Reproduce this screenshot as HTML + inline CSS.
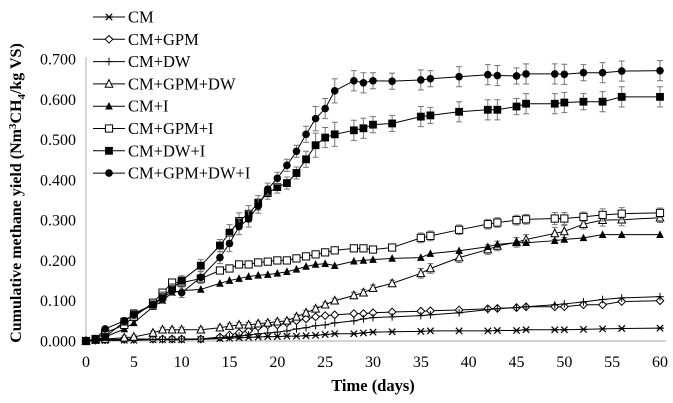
<!DOCTYPE html>
<html><head><meta charset="utf-8"><style>
html,body{margin:0;padding:0;background:#fff;}
svg{display:block;font-family:"Liberation Serif",serif;}
</style></head><body>
<svg id="chart" width="673" height="403" viewBox="0 0 673 403">
</svg>
<script>
const days = [0,1,2,4,5,7,8,9,10,12,14,15,16,17,18,19,20,21,22,23,24,25,26,28,29,30,32,35,36,39,42,43,45,46,49,50,52,54,56,60];
const seriesNames = ["CM","CM+GPM","CM+DW","CM+GPM+DW","CM+I","CM+GPM+I","CM+DW+I","CM+GPM+DW+I"];
const yTicks = [0,0.1,0.2,0.3,0.4,0.5,0.6,0.7];
const xTicks = [0,5,10,15,20,25,30,35,40,45,50,55,60];
const cmVals = [0,0.001,0.001,0.002,0.002,0.003,0.003,0.003,0.003,0.004,0.006,0.007,0.008,0.009,0.01,0.011,0.011,0.012,0.012,0.013,0.014,0.016,0.018,0.018,0.02,0.022,0.023,0.024,0.025,0.025,0.025,0.026,0.026,0.028,0.028,0.028,0.029,0.03,0.031,0.032];
const gpmVals = [0,0.002,0.003,0.004,0.005,0.005,0.005,0.005,0.005,0.005,0.01,0.015,0.02,0.025,0.035,0.04,0.04,0.045,0.05,0.055,0.06,0.063,0.065,0.068,0.068,0.07,0.072,0.074,0.075,0.077,0.08,0.081,0.083,0.085,0.085,0.085,0.09,0.09,0.098,0.1];
const dwVals = [0,0.002,0.002,0.003,0.003,0.004,0.004,0.004,0.005,0.005,0.008,0.01,0.012,0.015,0.018,0.02,0.022,0.025,0.03,0.033,0.038,0.04,0.045,0.05,0.055,0.058,0.06,0.063,0.065,0.07,0.078,0.08,0.083,0.085,0.09,0.092,0.097,0.103,0.107,0.11];
const gpmDwVals = [0,0.003,0.005,0.008,0.01,0.02,0.028,0.028,0.028,0.028,0.033,0.037,0.04,0.04,0.043,0.045,0.048,0.05,0.06,0.07,0.08,0.09,0.1,0.113,0.12,0.131,0.143,0.168,0.18,0.207,0.227,0.236,0.245,0.252,0.267,0.272,0.29,0.3,0.301,0.306];
const iVals = [0,0.003,0.01,0.03,0.045,0.085,0.1,0.12,0.125,0.128,0.143,0.15,0.155,0.16,0.163,0.165,0.168,0.172,0.178,0.185,0.19,0.192,0.187,0.198,0.2,0.202,0.205,0.207,0.217,0.224,0.234,0.24,0.244,0.244,0.249,0.252,0.256,0.264,0.264,0.264];
const gpmIVals = [0,0.005,0.02,0.04,0.06,0.095,0.12,0.145,0.145,0.155,0.175,0.18,0.19,0.19,0.195,0.197,0.2,0.2,0.205,0.21,0.215,0.22,0.225,0.23,0.23,0.227,0.232,0.256,0.261,0.276,0.29,0.294,0.3,0.302,0.304,0.304,0.308,0.313,0.316,0.318];
const dwIVals = [0,0.003,0.01,0.048,0.068,0.09,0.11,0.13,0.15,0.187,0.237,0.269,0.298,0.316,0.343,0.367,0.382,0.392,0.417,0.451,0.486,0.505,0.513,0.523,0.528,0.537,0.54,0.557,0.56,0.569,0.574,0.574,0.582,0.589,0.589,0.592,0.594,0.594,0.606,0.606];
const allVals = [0,0.005,0.03,0.05,0.065,0.09,0.105,0.125,0.12,0.158,0.207,0.242,0.284,0.303,0.335,0.377,0.404,0.436,0.471,0.513,0.552,0.577,0.621,0.646,0.641,0.646,0.645,0.648,0.651,0.656,0.661,0.659,0.658,0.663,0.663,0.662,0.666,0.666,0.67,0.671];
const errTop = [0,0.003,0.005,0.008,0.01,0.01,0.012,0.012,0.012,0.015,0.015,0.02,0.02,0.02,0.018,0.015,0.015,0.015,0.015,0.02,0.03,0.025,0.03,0.025,0.025,0.02,0.02,0.025,0.02,0.025,0.025,0.025,0.02,0.025,0.025,0.025,0.02,0.025,0.025,0.025];
const errMid = [0,0.002,0.003,0.005,0.005,0.005,0.005,0.006,0.006,0.006,0.006,0.006,0.006,0.006,0.006,0.006,0.006,0.006,0.006,0.006,0.006,0.006,0.006,0.008,0.008,0.008,0.008,0.012,0.012,0.012,0.012,0.012,0.012,0.012,0.015,0.015,0.012,0.015,0.015,0.012];
const valsList = [cmVals,gpmVals,dwVals,gpmDwVals,iVals,gpmIVals,dwIVals,allVals];
const errList = [null,null,null,errMid,null,errMid,errTop,errTop];
const markers = ["star","diamond","plus","tri-open","tri","sq-open","sq","circle"];

const NS="http://www.w3.org/2000/svg";
const svg=document.getElementById('chart');
const X0=86,X1=660,Y0=341,Y1=59;
function xs(d){return X0+(X1-X0)*d/60;}
function ys(v){return Y0-(Y0-Y1)*v/0.7;}
function mk(tag,attrs,parent){const e=document.createElementNS(NS,tag);for(const k in attrs)e.setAttribute(k,attrs[k]);(parent||svg).appendChild(e);return e;}

let e=mk('line',{x1:X0,y1:Y1-2,x2:X0,y2:Y0,stroke:'#bbb','stroke-width':1.2});


e=mk('line',{x1:X0,y1:Y0,x2:X1+6,y2:Y0,stroke:'#bbb','stroke-width':1.2});


yTicks.forEach(t=>{const el=mk('text',{x:76,y:ys(t)+5.5,'text-anchor':'end','font-size':16});el.textContent=t.toFixed(3);

});
xTicks.forEach(t=>{const el=mk('text',{x:xs(t),y:367,'text-anchor':'middle','font-size':16});el.textContent=t;

});
e=mk('text',{x:373,y:391,'text-anchor':'middle','font-size':16.5,'font-weight':'bold'});e.textContent='Time (days)';


e=mk('text',{transform:'translate(21,193) rotate(-90)','text-anchor':'middle','font-size':16,'font-weight':'bold'});
e.innerHTML='Cumulative methane yield (Nm<tspan dy="-5" font-size="11">3</tspan><tspan dy="5">CH</tspan><tspan dy="4" font-size="11">4</tspan><tspan dy="-4">/kg VS)</tspan>';



function marker(type,x,y,g){
  const s=3.8;
  if(type==='circle')mk('circle',{cx:x,cy:y,r:3.8,fill:'#000'},g);
  else if(type==='sq')mk('rect',{x:x-3.9,y:y-3.9,width:7.8,height:7.8,fill:'#000'},g);
  else if(type==='sq-open')mk('rect',{x:x-3.6,y:y-3.6,width:7.2,height:7.2,fill:'#fff',stroke:'#000','stroke-width':1},g);
  else if(type==='tri')mk('polygon',{points:`${x},${y-s-0.5} ${x-s},${y+s-0.5} ${x+s},${y+s-0.5}`,fill:'#000'},g);
  else if(type==='tri-open')mk('polygon',{points:`${x},${y-s-0.5} ${x-s},${y+s-0.5} ${x+s},${y+s-0.5}`,fill:'#fff',stroke:'#000','stroke-width':1},g);
  else if(type==='diamond')mk('polygon',{points:`${x},${y-3.8} ${x+3.8},${y} ${x},${y+3.8} ${x-3.8},${y}`,fill:'#fff',stroke:'#000','stroke-width':1},g);
  else if(type==='plus'){mk('line',{x1:x-3.8,y1:y,x2:x+3.8,y2:y,stroke:'#000','stroke-width':1},g);mk('line',{x1:x,y1:y-3.8,x2:x,y2:y+3.8,stroke:'#000','stroke-width':1},g);}
  else if(type==='star'){mk('path',{d:`M${x-3.2} ${y-3.2}L${x+3.2} ${y+3.2}M${x-3.2} ${y+3.2}L${x+3.2} ${y-3.2}M${x-3.8} ${y}L${x+3.8} ${y}`,stroke:'#000','stroke-width':1.2},g);}
}

valsList.forEach((vals,si)=>{
  const g=mk('g',{});
  
  
  const err=errList[si];
  if(err){days.forEach((d,i)=>{const x=xs(d),a=ys(vals[i]+err[i]),b=ys(vals[i]-err[i]);
    mk('path',{d:`M${x} ${a}V${b}M${x-3} ${a}H${x+3}M${x-3} ${b}H${x+3}`,stroke:'#777','stroke-width':1,fill:'none'},g);});}
  mk('polyline',{points:days.map((d,i)=>xs(d)+','+ys(vals[i])).join(' '),fill:'none',stroke:'#000','stroke-width':1},g);
  days.forEach((d,i)=>marker(markers[si],xs(d),ys(vals[i]),g));
});

seriesNames.forEach((n,i)=>{
  const y=17+i*22.3;
  const g=mk('g',{});
  
  
  mk('line',{x1:93,y1:y,x2:125,y2:y,stroke:'#000','stroke-width':1},g);
  marker(markers[i],109,y,g);
  const t=mk('text',{x:128,y:y+5.5,'font-size':16.5},g);t.textContent=n;
});
</script>
</body></html>
